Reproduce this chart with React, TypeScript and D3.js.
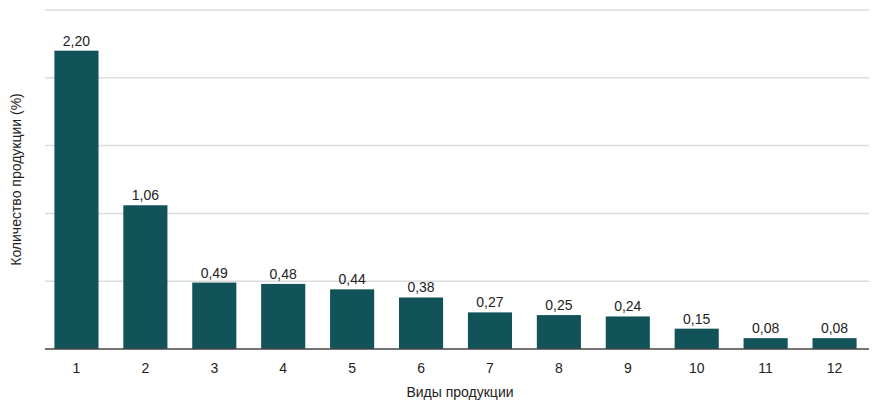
import React from 'react';
import * as d3 from 'd3';

const categories = ['1', '2', '3', '4', '5', '6', '7', '8', '9', '10', '11', '12'];
const values = [2.2, 1.06, 0.49, 0.48, 0.44, 0.38, 0.27, 0.25, 0.24, 0.15, 0.08, 0.08];
const gridTicks = [0.5, 1, 1.5, 2, 2.5];

const W = 888;
const H = 406;
const left = 42;
const right = 869;
const top = 10;
const bottom = 349;

const fmt = (v: number) => v.toFixed(2).replace('.', ',');

export default function App() {
  const x = d3.scaleBand<string>().domain(categories).range([left, right]).paddingInner(0.36).paddingOuter(0.18);
  const y = d3.scaleLinear().domain([0, 2.5]).range([bottom, top]);
  const font = '"Liberation Sans", Arial, sans-serif';

  return (
    <svg width={W} height={H} style={{ position: 'absolute', left: 0, top: 0, fontFamily: font }}>
      {gridTicks.map((t) => (
        <line key={t} x1={45} x2={right} y1={y(t)} y2={y(t)} stroke="#dcdcdc" strokeWidth={1.5} />
      ))}
      {values.map((v, i) => (
        <g key={i}>
          <rect x={x(categories[i])} y={y(v)} width={x.bandwidth()} height={y(0) - y(v)} fill="#12535a" />
          <text x={(x(categories[i]) ?? 0) + x.bandwidth() / 2} y={y(v) - 5} textAnchor="middle" fontSize={14} fill="#222">
            {fmt(v)}
          </text>
          <text x={(x(categories[i]) ?? 0) + x.bandwidth() / 2} y={bottom + 24} textAnchor="middle" fontSize={14} fill="#222">
            {categories[i]}
          </text>
        </g>
      ))}
      <line x1={45} x2={right} y1={bottom} y2={bottom} stroke="#444" strokeWidth={1.5} />
      <text x={460} y={397} textAnchor="middle" fontSize={14} fill="#222">Виды продукции</text>
      <text transform={`translate(21,${(top + bottom) / 2}) rotate(-90)`} textAnchor="middle" fontSize={14} fill="#222">
        Количество продукции (%)
      </text>
    </svg>
  );
}
